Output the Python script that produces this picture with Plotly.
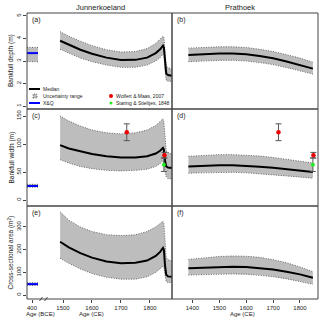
import plotly.graph_objects as go

# ---------------------------------------------------------------------------
# Data
# ---------------------------------------------------------------------------

# Junnerkoeland, age CE
jk_years = [1490, 1520, 1560, 1600, 1650, 1700, 1750, 1790, 1820, 1835, 1845, 1848, 1852, 1856, 1862, 1876]
jk_depth_med = [3.9, 3.72, 3.5, 3.32, 3.15, 3.04, 3.05, 3.15, 3.35, 3.52, 3.68, 3.6, 2.8, 2.45, 2.38, 2.35]
jk_depth_hi = [4.3, 4.1, 3.88, 3.68, 3.5, 3.4, 3.42, 3.55, 3.78, 3.95, 4.1, 4.05, 3.2, 2.8, 2.7, 2.65]
jk_depth_lo = [3.52, 3.35, 3.13, 2.97, 2.82, 2.72, 2.72, 2.82, 3.0, 3.15, 3.3, 3.25, 2.45, 2.15, 2.1, 2.1]

jk_width_med = [98, 92, 87, 82, 78, 76, 76, 78, 83, 88, 93, 90, 70, 60, 58, 57]
jk_width_hi = [150, 141, 132, 125, 120, 118, 120, 125, 133, 140, 145, 140, 105, 88, 85, 82]
jk_width_lo = [72, 66, 60, 56, 53, 52, 53, 55, 60, 65, 70, 65, 50, 42, 38, 38]

jk_area_med = [235, 210, 185, 165, 148, 140, 142, 152, 172, 190, 208, 200, 130, 90, 82, 80]
jk_area_hi = [367, 330, 300, 280, 266, 262, 266, 280, 300, 315, 325, 315, 220, 165, 155, 150]
jk_area_lo = [162, 140, 115, 95, 78, 70, 70, 80, 100, 115, 128, 120, 80, 60, 55, 55]

# Prathoek, age CE
pr_years = [1385, 1450, 1500, 1550, 1600, 1650, 1700, 1750, 1800, 1848]
pr_depth_med = [3.27, 3.31, 3.33, 3.33, 3.3, 3.22, 3.12, 2.98, 2.83, 2.66]
pr_depth_hi = [3.57, 3.61, 3.63, 3.63, 3.6, 3.52, 3.42, 3.28, 3.13, 2.94]
pr_depth_lo = [2.97, 3.01, 3.03, 3.03, 3.0, 2.93, 2.84, 2.71, 2.57, 2.42]

pr_width_med = [60, 61.5, 62, 62, 61, 59.5, 57.5, 55, 52.5, 50]
pr_width_hi = [78, 80, 81, 81, 80, 78.5, 76, 73, 70, 66]
pr_width_lo = [48, 49, 49.5, 49.5, 48.5, 47, 45, 43, 41, 39]

pr_area_med = [118, 122, 124, 125, 124, 120, 113, 103, 91, 76]
pr_area_hi = [157, 165, 170, 172, 171, 166, 156, 142, 124, 103]
pr_area_lo = [88, 91, 93, 93, 92, 88, 81, 72, 60, 47]

# X&Q estimate (age BCE)
xq_years = [380, 424]
xq_depth = [3.35, 2.97, 3.6]     # value, low, high
xq_width = [25, 23, 28]
xq_area = [48, 43, 54]

# observations (bankfull width only)
wm_year, wm_width, wm_err = [1720, 1850], [121, 80], [15, 5]
ss_year, ss_width, ss_err = [1848], [63], [12]

row_titles = ["Bankfull depth (m)", "Bankfull width (m)", "Cross-sectional area (m<sup>2</sup>)"]
panel_labels = [["(a)", "(b)"], ["(c)", "(d)"], ["(e)", "(f)"]]
y_ranges = [[0.87, 5.13], [-10.7, 162.5], [-17.6, 392.6]]
y_ticks = [[1, 2, 3, 4, 5], [0, 50, 100, 150], [0, 100, 200, 300]]

# ---------------------------------------------------------------------------
# Geometry helpers (pixels -> paper)
# ---------------------------------------------------------------------------
L, R, T, B = 27, 318, 13, 299


def px(x):
    return (x - L) / (R - L)


def py(y):
    return (B - y) / (B - T)


row_px = [(13, 109), (109, 206), (206, 299)]
x_bce = [px(27), px(43)]
x_ce = [px(43), px(172)]
x_rt = [px(172), px(318)]

FONT = "Liberation Sans, Arial, sans-serif"
BAND = "#bdbdbd"
DOT = "#666666"
INK = "#222222"

fig = go.Figure()


def axname(kind, n):
    return kind if n == 1 else f"{kind}{n}"


def add_band(xs, med, hi, lo, xa, ya):
    fig.add_trace(go.Scatter(x=xs + xs[::-1], y=hi + lo[::-1], fill="toself",
                             fillcolor=BAND, line=dict(width=0), mode="lines",
                             xaxis=xa, yaxis=ya, hoverinfo="skip"))
    for edge in (hi, lo):
        fig.add_trace(go.Scatter(x=xs, y=edge, mode="lines",
                                 line=dict(color=DOT, width=1, dash="1px,1.5px"),
                                 xaxis=xa, yaxis=ya))
    if med is not None:
        fig.add_trace(go.Scatter(x=xs, y=med, mode="lines",
                                 line=dict(color="black", width=2),
                                 xaxis=xa, yaxis=ya))


jk = [(jk_depth_med, jk_depth_hi, jk_depth_lo),
      (jk_width_med, jk_width_hi, jk_width_lo),
      (jk_area_med, jk_area_hi, jk_area_lo)]
pr = [(pr_depth_med, pr_depth_hi, pr_depth_lo),
      (pr_width_med, pr_width_hi, pr_width_lo),
      (pr_area_med, pr_area_hi, pr_area_lo)]
xq = [xq_depth, xq_width, xq_area]

layout = {}
for r in range(3):
    nb, nc, nr = 3 * r + 1, 3 * r + 2, 3 * r + 3
    ly, ry = 2 * r + 1, 2 * r + 2
    dom = [py(row_px[r][1]), py(row_px[r][0])]
    bottom = r == 2
    tickfont = dict(family=FONT, size=6, color=INK)
    common = dict(showgrid=False, zeroline=False, showline=False, automargin=False,
                  ticklen=3, tickcolor="#444", tickfont=tickfont)

    layout[axname("xaxis", nb)] = dict(
        domain=x_bce, range=[380, 444], anchor=axname("y", ly),
        tickvals=[400] if bottom else [], ticks="outside" if bottom else "",
        showticklabels=bottom, **common)
    layout[axname("xaxis", nc)] = dict(
        domain=x_ce, range=[1431, 1876], anchor=axname("y", ly),
        tickvals=[1500, 1600, 1700, 1800] if bottom else [],
        ticks="outside" if bottom else "", showticklabels=bottom, **common)
    layout[axname("xaxis", nr)] = dict(
        domain=x_rt, range=[1324, 1867], anchor=axname("y", ry),
        tickvals=[1400, 1500, 1600, 1700, 1800] if bottom else [],
        ticks="outside" if bottom else "", showticklabels=bottom, **common)
    layout[axname("yaxis", ly)] = dict(
        domain=dom, range=y_ranges[r], anchor=axname("x", nb),
        tickvals=y_ticks[r], ticks="outside", tickangle=-90, **common)
    layout[axname("yaxis", ry)] = dict(
        domain=dom, range=y_ranges[r], anchor=axname("x", nr),
        showticklabels=False, ticks="", **common)

    xb, xc, xr = axname("x", nb), axname("x", nc), axname("x", nr)
    yl, yr = axname("y", ly), axname("y", ry)

    # X&Q estimate (BCE)
    v, lo, hi = xq[r]
    add_band(xq_years, None, [hi, hi], [lo, lo], xb, yl)
    fig.add_trace(go.Scatter(x=xq_years, y=[v, v], mode="lines",
                             line=dict(color="#0000ff", width=2), xaxis=xb, yaxis=yl))

    add_band(jk_years, *jk[r], xc, yl)
    add_band(pr_years, *pr[r], xr, yr)

    if r == 1:
        for xa, ya in ((xc, yl), (xr, yr)):
            fig.add_trace(go.Scatter(
                x=wm_year, y=wm_width, mode="markers",
                marker=dict(color="#ee0000", size=4.5),
                error_y=dict(type="data", array=wm_err, color="#555", thickness=1, width=3),
                xaxis=xa, yaxis=ya, cliponaxis=False))
            fig.add_trace(go.Scatter(
                x=ss_year, y=ss_width, mode="markers",
                marker=dict(color="#22ee22", size=4),
                error_y=dict(type="data", array=ss_err, color="#555", thickness=1, width=3),
                xaxis=xa, yaxis=ya, cliponaxis=False))

shapes = []
annotations = []

# panel frames
for (y0, y1) in row_px:
    for (x0, x1) in ((27, 172), (172, 318)):
        shapes.append(dict(type="rect", xref="paper", yref="paper",
                           x0=px(x0), x1=px(x1), y0=py(y1), y1=py(y0),
                           line=dict(color="#444", width=1)))

# axis break marks
for xb in (41, 46):
    shapes.append(dict(type="line", xref="paper", yref="paper",
                       x0=px(xb - 1.5), x1=px(xb + 1.5), y0=py(301), y1=py(297),
                       line=dict(color="#444", width=1)))


def text(s, x, y, size=6, xanchor="left", angle=0):
    annotations.append(dict(text=s, x=px(x), y=py(y), xref="paper", yref="paper",
                            showarrow=False, xanchor=xanchor, yanchor="middle",
                            textangle=angle, borderpad=0,
                            font=dict(family=FONT, size=size, color=INK)))


for r in range(3):
    y0, y1 = row_px[r]
    text(panel_labels[r][0], 31, y0 + 7, size=7)
    text(panel_labels[r][1], 176, y0 + 7, size=7)
    text(row_titles[r], 11, (y0 + y1) / 2, size=6.5, xanchor="center", angle=-90)

text("Junnerkoeland", 100, 8, size=7.5, xanchor="center")
text("Prathoek", 240, 8, size=7.5, xanchor="center")
text("Age (BCE)", 40, 314, size=6, xanchor="center")
text("Age (CE)", 91, 314, size=6, xanchor="center")
text("Age (CE)", 242, 314, size=6, xanchor="center")

# legend inside panel (a)
shapes.append(dict(type="line", xref="paper", yref="paper", x0=px(29), x1=px(40),
                   y0=py(89), y1=py(89), line=dict(color="black", width=2)))
shapes.append(dict(type="rect", xref="paper", yref="paper", x0=px(33), x1=px(37),
                   y0=py(98), y1=py(94), fillcolor=BAND,
                   line=dict(color=DOT, width=1, dash="1px,1.5px")))
shapes.append(dict(type="line", xref="paper", yref="paper", x0=px(29), x1=px(40),
                   y0=py(103), y1=py(103), line=dict(color="#0000ff", width=2)))
shapes.append(dict(type="circle", xref="paper", yref="paper", x0=px(109), x1=px(113),
                   y0=py(98), y1=py(94), fillcolor="#ee0000", line=dict(width=0)))
shapes.append(dict(type="circle", xref="paper", yref="paper", x0=px(109.5), x1=px(112.5),
                   y0=py(104.5), y1=py(101.5), fillcolor="#22ee22", line=dict(width=0)))
text("Median", 42, 89, size=5)
text("Uncertainty range", 42, 96, size=5)
text("X&Q", 42, 103, size=5)
text("Wolfert & Maas, 2007", 115, 96, size=5)
text("Staring & Stieltjes, 1848", 115, 103, size=5)

fig.update_layout(
    width=320, height=320,
    margin=dict(l=L, r=320 - R, t=T, b=320 - B, autoexpand=False),
    plot_bgcolor="white", paper_bgcolor="white",
    showlegend=False,
    shapes=shapes, annotations=annotations,
    **layout,
)

# the page body has a default 8px margin; drop it so the figure fills the window
fig.write_html("out.html", config={"displayModeBar": False},
               post_script="document.body.style.margin='0';")
